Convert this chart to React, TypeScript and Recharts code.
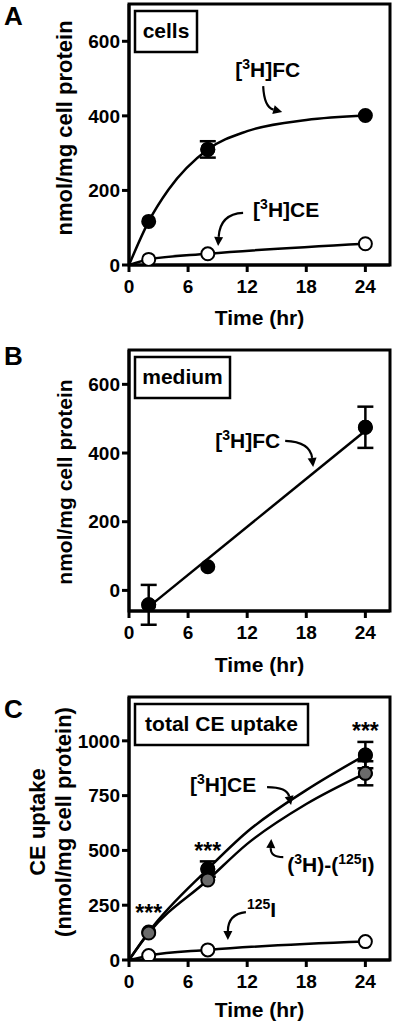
import React from 'react';
import {
  ComposedChart,
  Line,
  Scatter,
  XAxis,
  YAxis,
  ErrorBar,
  ReferenceArea,
  ReferenceDot,
} from 'recharts';

const FONT = '"Liberation Sans", Arial, Helvetica, sans-serif';

// shared x axis
const timeTicks = [0, 6, 12, 18, 24];
const timeMax = 26.5;

// panel A - cells
const cellsTicks = [0, 200, 400, 600];
const cellsFcPts = [
  { t: 2, v: 117 },
  { t: 8, v: 310, err: 22 },
  { t: 24, v: 401 },
];
const cellsFcFit = [
  { t: 0, v: 0 },
  { t: 2, v: 117 },
  { t: 4, v: 202 },
  { t: 8, v: 310 },
  { t: 12, v: 359 },
  { t: 18, v: 389 },
  { t: 24, v: 401 },
];
const cellsCePts = [
  { t: 2, v: 15 },
  { t: 8, v: 30 },
  { t: 24, v: 57 },
];
const cellsCeFit = [
  { t: 0, v: 0 },
  { t: 2, v: 15 },
  { t: 8, v: 30 },
  { t: 24, v: 57 },
];

// panel B - medium
const mediumTicks = [0, 200, 400, 600];
const mediumFcPts = [
  { t: 2, v: -42, err: 58 },
  { t: 8, v: 69 },
  { t: 24, v: 475, err: 60 },
];
const mediumFcFit = [
  { t: 2, v: -48 },
  { t: 24, v: 465 },
];

// panel C - total CE uptake
const totalTicks = [0, 250, 500, 750, 1000];
const totalHPts = [
  { t: 2, v: 128 },
  { t: 8, v: 415, err: 35 },
  { t: 24, v: 935, err: 60 },
];
const totalHFit = [
  { t: 0, v: 0 },
  { t: 2, v: 128 },
  { t: 8, v: 415 },
  { t: 12, v: 585 },
  { t: 18, v: 775 },
  { t: 24, v: 935 },
];
const totalDiffPts = [
  { t: 2, v: 123 },
  { t: 8, v: 365 },
  { t: 24, v: 852, err: 55 },
];
const totalDiffFit = [
  { t: 0, v: 0 },
  { t: 2, v: 123 },
  { t: 8, v: 365 },
  { t: 12, v: 530 },
  { t: 18, v: 712 },
  { t: 24, v: 852 },
];
const totalIPts = [
  { t: 2, v: 20 },
  { t: 8, v: 46 },
  { t: 24, v: 84 },
];
const totalIFit = [
  { t: 0, v: 0 },
  { t: 2, v: 20 },
  { t: 8, v: 46 },
  { t: 24, v: 84 },
];
const sigMarks = [
  { t: 2, v: 178 },
  { t: 8, v: 461 },
  { t: 24, v: 1008 },
];

type Seg = { s: string; sup?: boolean };

const SupText = ({ x, y, segs, size = 21 }: { x: number; y: number; segs: Seg[]; size?: number }) => {
  let cur = 0;
  return (
    <text x={x} y={y} fontFamily={FONT} fontWeight="bold" fontSize={size} fill="#000">
      {segs.map((g, i) => {
        const target = g.sup ? -8 : 0;
        const dy = target - cur;
        cur = target;
        return (
          <tspan key={i} dy={dy} fontSize={g.sup ? 14 : size}>
            {g.s}
          </tspan>
        );
      })}
    </text>
  );
};

type Pt = [number, number];

const CurvedArrow = ({ from, ctrl, to }: { from: Pt; ctrl: Pt; to: Pt }) => {
  const ang = Math.atan2(to[1] - ctrl[1], to[0] - ctrl[0]);
  const head = 9;
  const half = 4.5;
  const bx = to[0] - head * Math.cos(ang);
  const by = to[1] - head * Math.sin(ang);
  const p1 = `${bx + half * Math.sin(ang)},${by - half * Math.cos(ang)}`;
  const p2 = `${bx - half * Math.sin(ang)},${by + half * Math.cos(ang)}`;
  return (
    <g>
      <path d={`M${from[0]},${from[1]} Q${ctrl[0]},${ctrl[1]} ${bx},${by}`} fill="none" stroke="#000" strokeWidth={2.2} />
      <polygon points={`${to[0]},${to[1]} ${p1} ${p2}`} fill="#000" />
    </g>
  );
};

const callout = (segs: Seg[], from: Pt, ctrl: Pt, to: Pt) => (p: any) => (
  <g transform={`translate(${p.cx},${p.cy})`}>
    <SupText x={0} y={0} segs={segs} />
    <CurvedArrow from={from} ctrl={ctrl} to={to} />
  </g>
);

const boxLabel = (text: string, w: number) => (p: any) => (
  <g transform={`translate(${p.cx + 6},${p.cy + 7})`}>
    <rect x={0} y={0} width={w} height={41} fill="#fff" stroke="#000" strokeWidth={2.5} />
    <text x={w / 2} y={27} textAnchor="middle" fontFamily={FONT} fontWeight="bold" fontSize={21} fill="#000">
      {text}
    </text>
  </g>
);

const dot = (fill: string) => (p: any) => (
  <circle cx={p.cx} cy={p.cy} r={6.5} fill={fill} stroke="#000" strokeWidth={2} />
);

const stars = (p: any) => (
  <text x={p.cx} y={p.cy} textAnchor="middle" fontFamily={FONT} fontWeight="bold" fontSize={23} fill="#000">
    ***
  </text>
);

const xTitle = (off: number) => (p: any) => {
  const vb = p.viewBox;
  return (
    <text x={vb.x + vb.width / 2} y={vb.y + off} textAnchor="middle" fontFamily={FONT} fontWeight="bold" fontSize={21} fill="#000">
      Time (hr)
    </text>
  );
};

const yTitle = (lines: { s: string; x: number }[], cy: number, size: number) => () => (
  <g>
    {lines.map((l, i) => (
      <text
        key={i}
        transform={`translate(${l.x},${cy}) rotate(-90)`}
        textAnchor="middle"
        dominantBaseline="central"
        fontFamily={FONT}
        fontWeight="bold"
        fontSize={size}
        fill="#000"
      >
        {l.s}
      </text>
    ))}
  </g>
);

const tickStyle = { fill: '#000', fontSize: 19, fontWeight: 'bold', fontFamily: FONT };
const axisLine = { stroke: '#000', strokeWidth: 3 };

const lineProps = {
  type: 'monotone' as const,
  dataKey: 'v',
  dot: false,
  stroke: '#000',
  strokeWidth: 2.5,
  isAnimationActive: false,
  activeDot: false,
};

const errBar = <ErrorBar dataKey="err" direction="y" width={8} stroke="#000" strokeWidth={2.5} />;

const withErr = (pts: { t: number; v: number; err?: number }[]) => pts.filter((p) => p.err);

const PanelCells = () => (
  <ComposedChart width={395} height={340} margin={{ top: 4, right: 5, left: 0, bottom: 0 }}>
    <XAxis
      type="number"
      dataKey="t"
      domain={[0, timeMax]}
      ticks={timeTicks}
      allowDataOverflow
      height={75}
      tick={tickStyle}
      tickSize={7}
      tickMargin={8}
      tickLine={axisLine}
      axisLine={axisLine}
      label={xTitle(60)}
    />
    <YAxis
      type="number"
      domain={[0, 700]}
      ticks={cellsTicks}
      allowDataOverflow
      width={129}
      tick={tickStyle}
      tickSize={7}
      tickMargin={2}
      tickLine={axisLine}
      axisLine={axisLine}
      label={yTitle([{ s: 'nmol/mg cell protein', x: 64 }], 128, 22)}
    />
    <ReferenceArea x1={0} x2={timeMax} y1={0} y2={700} fill="none" stroke="#000" strokeWidth={3} ifOverflow="visible" />
    <Line data={cellsFcFit} {...lineProps} />
    <Line data={cellsCeFit} {...lineProps} />
    <Scatter data={withErr(cellsFcPts)} dataKey="v" shape={dot('#000')} isAnimationActive={false}>
      {errBar}
    </Scatter>
    <Scatter data={cellsFcPts} dataKey="v" shape={dot('#000')} isAnimationActive={false} />
    <Scatter data={cellsCePts} dataKey="v" shape={dot('#fff')} isAnimationActive={false} />
    <ReferenceDot x={0} y={700} r={0} ifOverflow="visible" shape={boxLabel('cells', 62)} />
    <ReferenceDot
      x={10.78}
      y={504}
      r={0}
      ifOverflow="visible"
      shape={callout([{ s: '[' }, { s: '3', sup: true }, { s: 'H]FC' }], [28, 9], [29, 30], [47, 35])}
    />
    <ReferenceDot
      x={12.6}
      y={129}
      r={0}
      ifOverflow="visible"
      shape={callout([{ s: '[' }, { s: '3', sup: true }, { s: 'H]CE' }], [-10, -4], [-33, -3], [-35, 29])}
    />
  </ComposedChart>
);

const PanelMedium = () => (
  <ComposedChart width={395} height={340} margin={{ top: 10, right: 5, left: 0, bottom: 0 }}>
    <XAxis
      type="number"
      dataKey="t"
      domain={[0, timeMax]}
      ticks={timeTicks}
      allowDataOverflow
      height={69}
      tick={tickStyle}
      tickSize={7}
      tickMargin={8}
      tickLine={axisLine}
      axisLine={axisLine}
      label={xTitle(61)}
    />
    <YAxis
      type="number"
      domain={[-60, 700]}
      ticks={mediumTicks}
      allowDataOverflow
      width={129}
      tick={tickStyle}
      tickSize={7}
      tickMargin={2}
      tickLine={axisLine}
      axisLine={axisLine}
      label={yTitle([{ s: 'nmol/mg cell protein', x: 64 }], 142, 21)}
    />
    <ReferenceArea x1={0} x2={timeMax} y1={-60} y2={700} fill="none" stroke="#000" strokeWidth={3} ifOverflow="visible" />
    <Line data={mediumFcFit} {...lineProps} type="linear" />
    <Scatter data={withErr(mediumFcPts)} dataKey="v" shape={dot('#000')} isAnimationActive={false}>
      {errBar}
    </Scatter>
    <Scatter data={mediumFcPts} dataKey="v" shape={dot('#000')} isAnimationActive={false} />
    <ReferenceDot x={0} y={700} r={0} ifOverflow="visible" shape={boxLabel('medium', 95)} />
    <ReferenceDot
      x={8.75}
      y={415}
      r={0}
      ifOverflow="visible"
      shape={callout([{ s: '[' }, { s: '3', sup: true }, { s: 'H]FC' }], [70, -7], [95, -6], [98, 19])}
    />
  </ComposedChart>
);

const PanelTotal = () => (
  <ComposedChart width={395} height={344} margin={{ top: 17, right: 5, left: 0, bottom: 0 }}>
    <XAxis
      type="number"
      dataKey="t"
      domain={[0, timeMax]}
      ticks={timeTicks}
      allowDataOverflow
      height={64}
      tick={tickStyle}
      tickSize={7}
      tickMargin={8}
      tickLine={axisLine}
      axisLine={axisLine}
      label={xTitle(57)}
    />
    <YAxis
      type="number"
      domain={[0, 1200]}
      ticks={totalTicks}
      allowDataOverflow
      width={129}
      tick={tickStyle}
      tickSize={7}
      tickMargin={2}
      tickLine={axisLine}
      axisLine={axisLine}
      label={yTitle(
        [
          { s: 'CE uptake', x: 37 },
          { s: '(nmol/mg cell protein)', x: 63 },
        ],
        142,
        22
      )}
    />
    <ReferenceArea x1={0} x2={timeMax} y1={0} y2={1200} fill="none" stroke="#000" strokeWidth={3} ifOverflow="visible" />
    <Line data={totalHFit} {...lineProps} />
    <Line data={totalDiffFit} {...lineProps} />
    <Line data={totalIFit} {...lineProps} />
    <Scatter data={withErr(totalDiffPts)} dataKey="v" shape={dot('#6b6b6b')} isAnimationActive={false}>
      {errBar}
    </Scatter>
    <Scatter data={withErr(totalHPts)} dataKey="v" shape={dot('#000')} isAnimationActive={false}>
      {errBar}
    </Scatter>
    <Scatter data={totalHPts} dataKey="v" shape={dot('#000')} isAnimationActive={false} />
    <Scatter data={totalDiffPts} dataKey="v" shape={dot('#6b6b6b')} isAnimationActive={false} />
    <Scatter data={totalIPts} dataKey="v" shape={dot('#fff')} isAnimationActive={false} />
    <Scatter data={sigMarks} dataKey="v" shape={stars} isAnimationActive={false} />
    <ReferenceDot x={0} y={1200} r={0} ifOverflow="visible" shape={boxLabel('total CE uptake', 173)} />
    <ReferenceDot
      x={6.2}
      y={766}
      r={0}
      ifOverflow="visible"
      shape={callout([{ s: '[' }, { s: '3', sup: true }, { s: 'H]CE' }], [77, -5], [97, -5], [101, 13])}
    />
    <ReferenceDot
      x={16.07}
      y={401}
      r={0}
      ifOverflow="visible"
      shape={callout(
        [{ s: '(' }, { s: '3', sup: true }, { s: 'H)-(' }, { s: '125', sup: true }, { s: 'I)' }],
        [-4, -15],
        [-17, -15],
        [-16, -33]
      )}
    />
    <ReferenceDot
      x={11.97}
      y={196}
      r={0}
      ifOverflow="visible"
      shape={callout([{ s: '125', sup: true }, { s: 'I' }], [-1, -5], [-19, -3], [-19, 23])}
    />
  </ComposedChart>
);

const letterStyle = { fontFamily: FONT, fontWeight: 'bold' as const, fontSize: 26, fill: '#000' };

export default function App() {
  return (
    <div style={{ position: 'absolute', left: 0, top: 0, width: 395, height: 1024, background: '#fff' }}>
      <div style={{ position: 'absolute', left: 0, top: 0 }}>
        <PanelCells />
      </div>
      <div style={{ position: 'absolute', left: 0, top: 340 }}>
        <PanelMedium />
      </div>
      <div style={{ position: 'absolute', left: 0, top: 680 }}>
        <PanelTotal />
      </div>
      <svg width={395} height={1024} style={{ position: 'absolute', left: 0, top: 0, pointerEvents: 'none' }}>
        <text x={4} y={25} {...letterStyle}>A</text>
        <text x={4} y={365} {...letterStyle}>B</text>
        <text x={4} y={718} {...letterStyle}>C</text>
      </svg>
    </div>
  );
}
